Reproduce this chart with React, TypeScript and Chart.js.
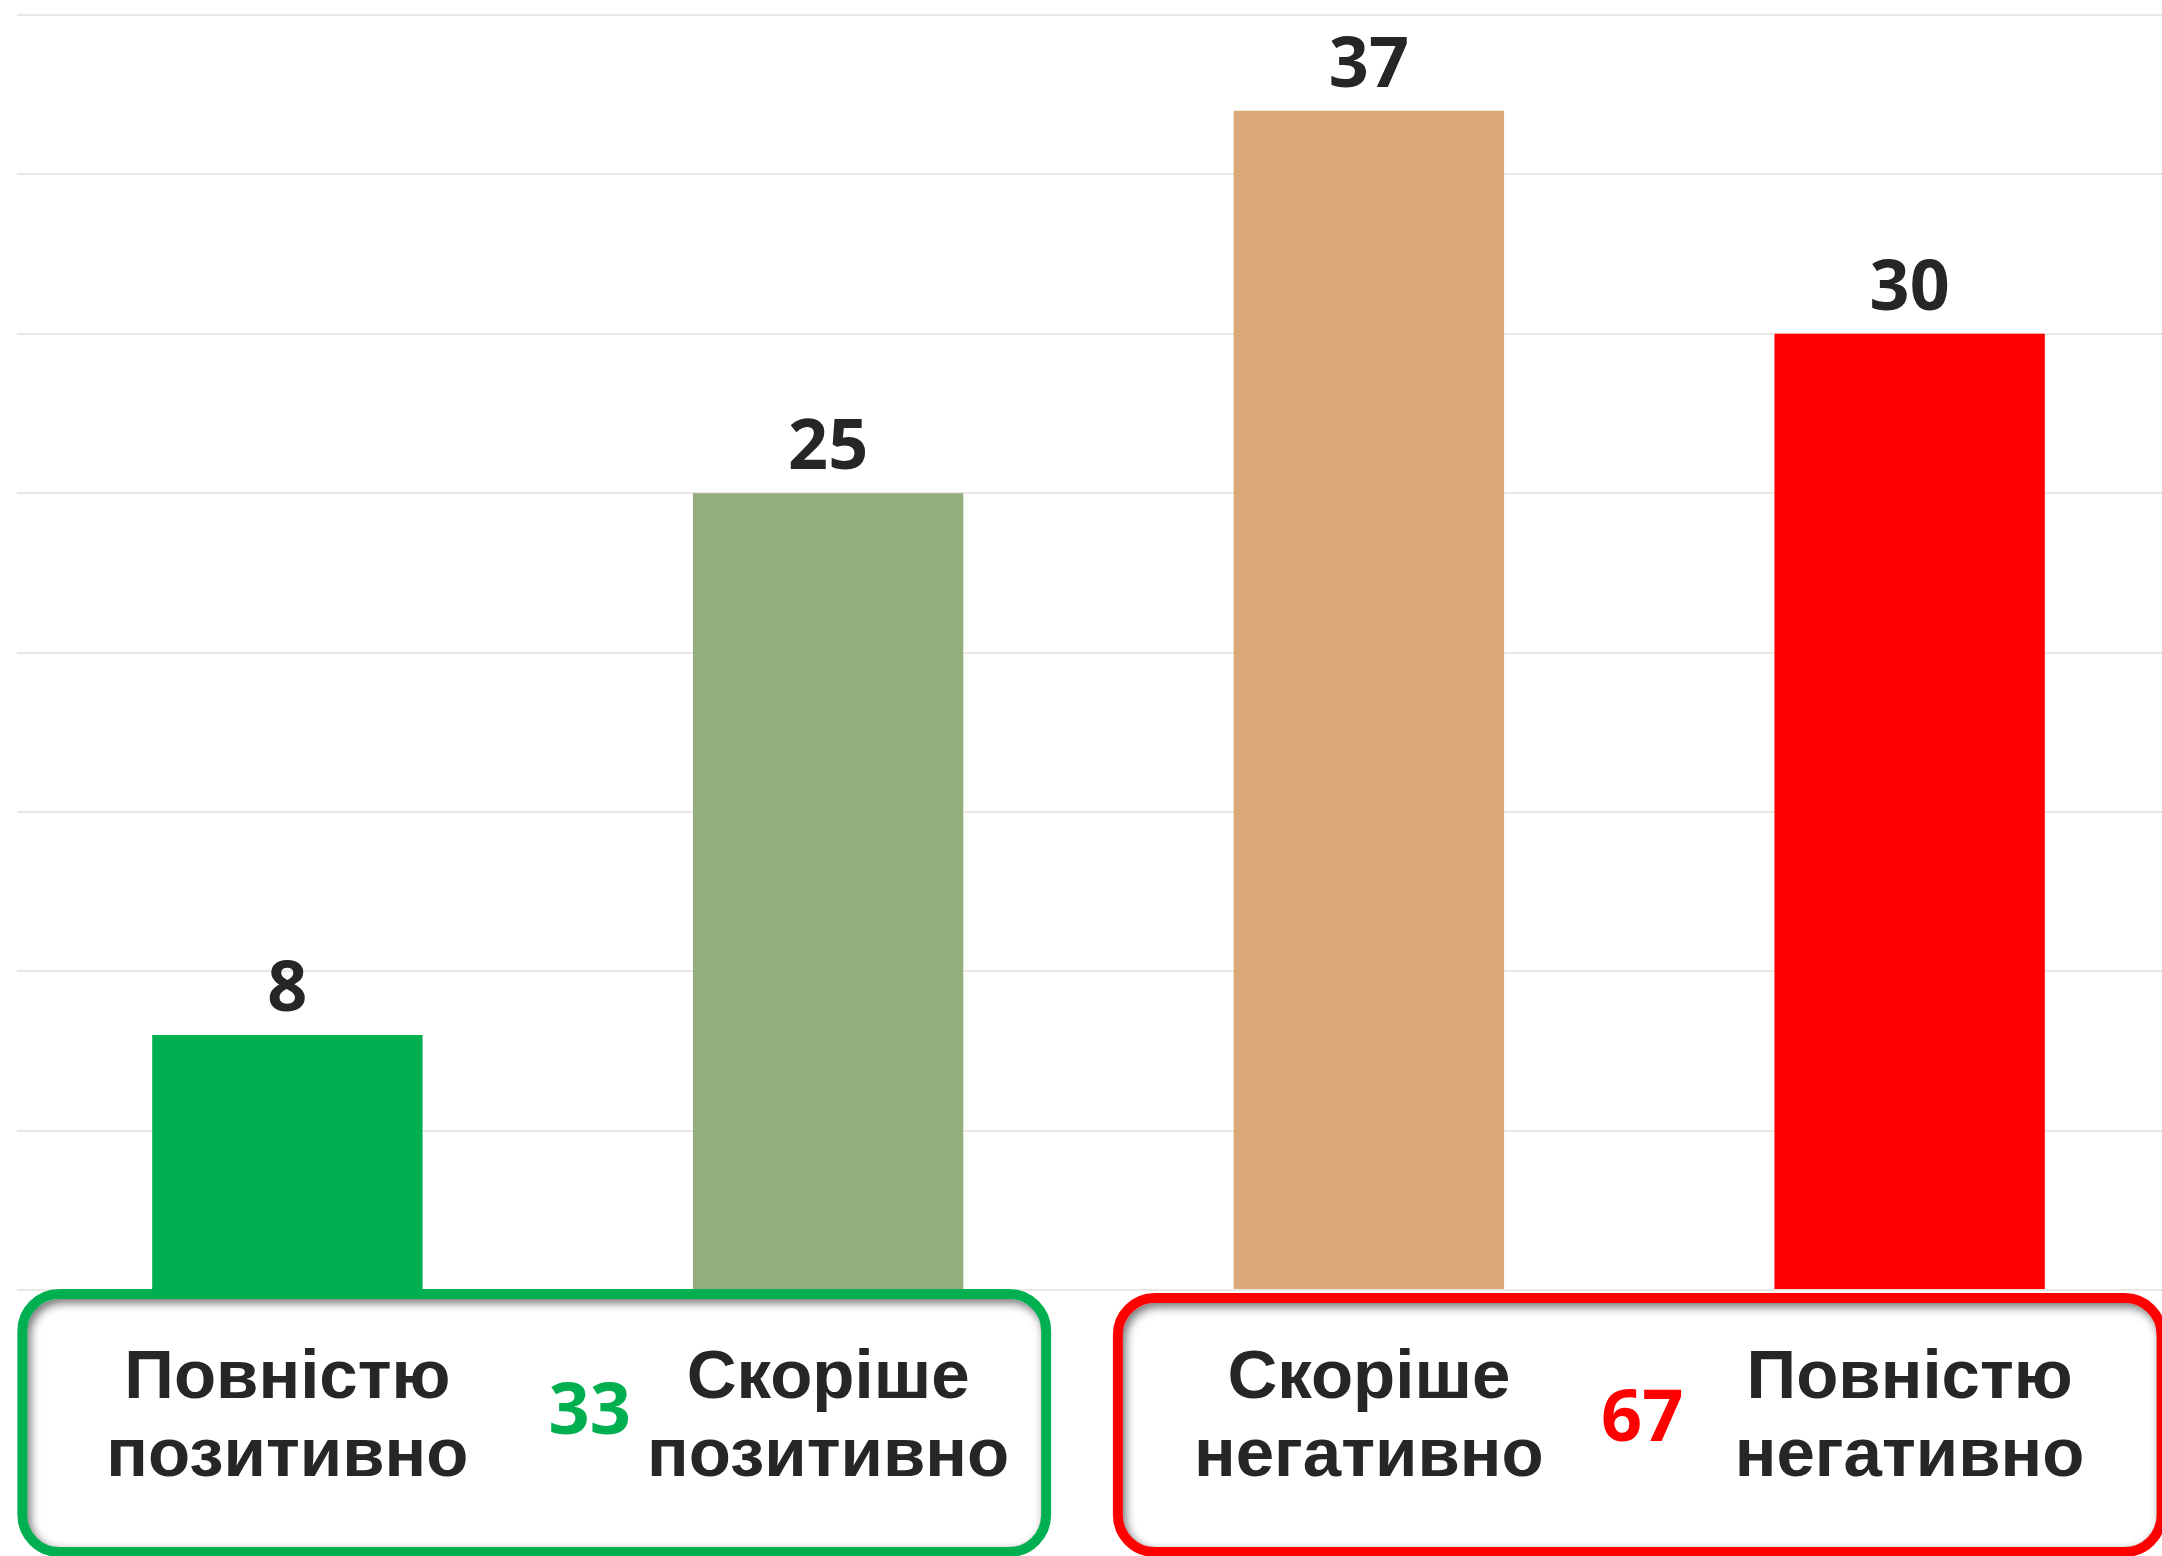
import React, { useEffect, useRef } from "react";
import { Chart, registerables } from "chart.js";

Chart.register(...registerables);

const categories: string[][] = [
  ["Повністю", "позитивно"],
  ["Скоріше", "позитивно"],
  ["Скоріше", "негативно"],
  ["Повністю", "негативно"],
];
const values: number[] = [8, 25, 37, 30];
const barColors: string[] = ["#00b050", "#93ad7b", "#d9a876", "#ff0000"];
const groupTotals: string[] = ["33", "67"];
const groupColors: string[] = ["#00b050", "#ff0000"];
const yMax = 40;
const yStep = 5;

const W = 2180;
const H = 1556;

const valueLabelPlugin = {
  id: "valueLabels",
  afterDatasetsDraw(chart: any) {
    const ctx = chart.ctx;
    const meta = chart.getDatasetMeta(0);
    ctx.save();
    ctx.font = "bold 70px 'Open Sans'";
    ctx.fillStyle = "#262626";
    ctx.textAlign = "center";
    ctx.textBaseline = "alphabetic";
    meta.data.forEach((bar: any, i: number) => {
      ctx.fillText(String(values[i]), bar.x, bar.y - 24);
    });
    ctx.restore();
  },
};

function drawBox(ctx: CanvasRenderingContext2D, l: number, t: number, r: number, b: number, color: string) {
  const bw = 10;
  const rad = 42;
  ctx.save();
  const il = l + bw, it = t + bw, ir = r - bw, ib = b - bw;
  ctx.beginPath();
  (ctx as any).roundRect(il, it, ir - il, ib - it, rad - bw);
  ctx.clip();
  ctx.beginPath();
  ctx.rect(il - 200, it - 200, ir - il + 400, ib - it + 400);
  (ctx as any).roundRect(il, it, ir - il, ib - it, rad - bw);
  ctx.shadowColor = "rgba(0,0,0,0.55)";
  ctx.shadowBlur = 10;
  ctx.shadowOffsetX = 3;
  ctx.shadowOffsetY = 4;
  ctx.fillStyle = "#888";
  ctx.fill("evenodd");
  ctx.restore();
  ctx.save();
  ctx.beginPath();
  (ctx as any).roundRect(l + bw / 2, t + bw / 2, r - l - bw, b - t - bw, rad - bw / 2);
  ctx.lineWidth = bw;
  ctx.strokeStyle = color;
  ctx.stroke();
  ctx.restore();
}

const boxPlugin = {
  id: "groupBoxes",
  afterDraw(chart: any) {
    const ctx = chart.ctx as CanvasRenderingContext2D;
    const xs = chart.scales.x;
    const bottom = chart.chartArea.bottom;
    const p = [0, 1, 2, 3].map((i) => xs.getPixelForValue(i));
    drawBox(ctx, p[0] - 270, bottom - 1, p[1] + 223, H + 1, groupColors[0]);
    drawBox(ctx, p[2] - 256, bottom + 3, p[3] + 257, H + 1, groupColors[1]);
    ctx.save();
    ctx.font = "bold 72px 'Open Sans'";
    ctx.textAlign = "center";
    ctx.textBaseline = "alphabetic";
    ctx.fillStyle = groupColors[0];
    ctx.fillText(groupTotals[0], (p[0] + p[1]) / 2 + 32, 1434);
    ctx.fillStyle = groupColors[1];
    ctx.fillText(groupTotals[1], (p[2] + p[3]) / 2 + 3, 1441);
    ctx.restore();
  },
};

export default function App() {
  const ref = useRef<HTMLCanvasElement | null>(null);
  useEffect(() => {
    if (!ref.current) return;
    const chart = new Chart(ref.current, {
      type: "bar",
      data: {
        labels: categories,
        datasets: [
          {
            data: values,
            backgroundColor: barColors,
            borderWidth: 0,
            barPercentage: 0.5,
            categoryPercentage: 1,
          },
        ],
      },
      options: {
        animation: false,
        responsive: false,
        devicePixelRatio: 1,
        layout: { padding: { left: 17, right: 0, top: 15, bottom: 10 } },
        plugins: { legend: { display: false }, tooltip: { enabled: false } },
        scales: {
          x: {
            grid: { display: false, drawTicks: false },
            border: { display: false },
            ticks: {
              padding: 50,
              color: "#262626",
              font: { family: "'Liberation Sans', Arial, sans-serif", size: 69, weight: "bold", lineHeight: 78 / 69 },
              maxRotation: 0,
              autoSkip: false,
            },
          },
          y: {
            min: 0,
            max: yMax,
            ticks: { display: false, stepSize: yStep },
            grid: { color: "#ebe7e3", lineWidth: 2, drawTicks: false },
            border: { display: false },
          },
        },
      },
      plugins: [valueLabelPlugin, boxPlugin],
    });
    return () => chart.destroy();
  }, []);
  return (
    <div style={{ position: "fixed", left: 0, top: 0, width: 2162, height: 1556, overflow: "hidden", background: "#ffffff" }}>
      <canvas ref={ref} width={W} height={H} style={{ display: "block", width: W, height: H }} />
    </div>
  );
}
